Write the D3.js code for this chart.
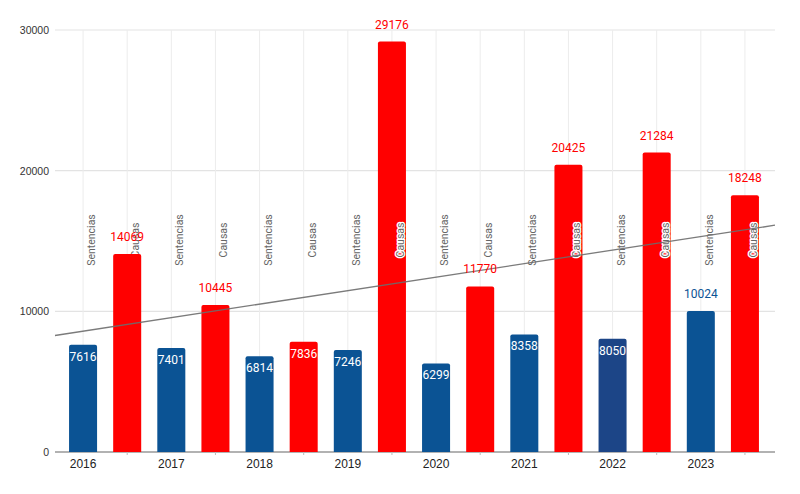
<!DOCTYPE html>
<html><head><meta charset="utf-8">
<script src="https://cdn.jsdelivr.net/npm/d3@7"></script>
<style>html,body{margin:0;padding:0;background:#fff}svg{display:block}</style>
</head><body>
<svg id="c" width="800" height="494"></svg>
<script>
const years = ["2016","2017","2018","2019","2020","2021","2022","2023"];
const series = ["Sentencias","Causas"];
const sentencias = [7616,7401,6814,7246,6299,8358,8050,10024];
const causas = [14069,10445,7836,29176,11770,20425,21284,18248];
const yTicks = [0,10000,20000,30000];

const colors = {Sentencias:"#0b5394", Causas:"#ff0000"};
const altBlue = "#1c4587"; // 2022 Sentencias bar

const rows = [];
years.forEach((y,i)=>{
  rows.push({year:y, s:"Sentencias", v:sentencias[i], key:y+"-S"});
  rows.push({year:y, s:"Causas", v:causas[i], key:y+"-C"});
});

const svg = d3.select("#c");
const x = d3.scaleBand().domain(rows.map(d=>d.key)).range([61,767]).paddingInner(0.365).paddingOuter(0.1825);
const y = d3.scaleLinear().domain([0,30000]).range([452,30]);
const cx = k => x(k)+x.bandwidth()/2;
const L = 55, R = 775;

// horizontal grid
svg.append("g").selectAll("line").data(yTicks).join("line")
  .attr("x1",L).attr("x2",R).attr("y1",d=>y(d)).attr("y2",d=>y(d))
  .attr("stroke",d=>d===0?"#999":"#e3e3e3").attr("stroke-width",d=>d===0?1.3:1.2);
// vertical grid
svg.append("g").selectAll("line").data(rows).join("line")
  .attr("x1",d=>cx(d.key)).attr("x2",d=>cx(d.key)).attr("y1",y(30000)).attr("y2",y(0))
  .attr("stroke","#ececec").attr("stroke-width",1);
// y labels
svg.append("g").selectAll("text").data(yTicks).join("text")
  .attr("x",49).attr("y",d=>y(d)+4).attr("text-anchor","end")
  .attr("font-family","Liberation Sans, Arial, sans-serif").attr("font-size",10.5).attr("fill","#333")
  .text(d=>d);

// rotated series labels
svg.append("g").selectAll("text").data(rows).join("text")
  .attr("transform",d=>`translate(${cx(d.key)+12},240) rotate(-90)`)
  .attr("text-anchor","middle")
  .attr("font-family","Roboto, sans-serif").attr("font-size",10.5).attr("fill","#666")
  .text(d=>d.s);

// bars
const bw = x.bandwidth();
svg.append("g").selectAll("path").data(rows).join("path")
  .attr("d",d=>{
    const x0=x(d.key), y0=y(d.v), h=y(0)-y(d.v), r=2;
    return `M${x0},${y0+h}V${y0+r}Q${x0},${y0} ${x0+r},${y0}H${x0+bw-r}Q${x0+bw},${y0} ${x0+bw},${y0+r}V${y0+h}Z`;
  })
  .attr("fill",d=>d.key==="2022-S"?altBlue:colors[d.s]);

// x ticks at Causas centres
svg.append("g").selectAll("line").data(rows.filter(d=>d.s==="Causas")).join("line")
  .attr("x1",d=>cx(d.key)).attr("x2",d=>cx(d.key)).attr("y1",y(0)).attr("y2",y(0)+3)
  .attr("stroke","#bbb");

// Causas labels overlapping red bars get a white halo
svg.append("g").selectAll("text").data(rows.filter(d=>d.s==="Causas" && y(d.v)<240)).join("text")
  .attr("transform",d=>`translate(${cx(d.key)+12},240) rotate(-90)`)
  .attr("text-anchor","middle")
  .attr("font-family","Roboto, sans-serif").attr("font-size",10.5)
  .attr("fill","#666").attr("stroke","#fff").attr("stroke-width",2.6)
  .attr("stroke-linejoin","round").attr("paint-order","stroke")
  .text(d=>d.s);

// trend line (least squares over the 16 values, by slot index)
const xs = rows.map((d,i)=>i), ys = rows.map(d=>d.v);
const mx = d3.mean(xs), my = d3.mean(ys);
const slope = d3.sum(xs.map((xi,i)=>(xi-mx)*(ys[i]-my)))/d3.sum(xs.map(xi=>(xi-mx)**2));
const icpt = my - slope*mx;
const step = x.step(), c0 = cx(rows[0].key);
const idx = px => (px - c0)/step;
svg.append("line")
  .attr("x1",L).attr("x2",R)
  .attr("y1",y(icpt+slope*idx(L))).attr("y2",y(icpt+slope*idx(R)))
  .attr("stroke","#6d6d6d").attr("stroke-width",1.3).attr("opacity",0.9);

// value labels
svg.append("g").selectAll("text").data(rows).join("text")
  .attr("x",d=>cx(d.key))
  .attr("y",d=>d.v<9000 ? y(d.v)+16 : y(d.v)-13)
  .attr("text-anchor","middle")
  .attr("font-family","Roboto, sans-serif").attr("font-size",12)
  .attr("fill",d=>d.v<9000 ? "#fff" : colors[d.s])
  .text(d=>d.v);

// year labels
svg.append("g").selectAll("text").data(rows.filter(d=>d.s==="Sentencias")).join("text")
  .attr("x",d=>cx(d.key)).attr("y",468).attr("text-anchor","middle")
  .attr("font-family","Liberation Sans, Arial, sans-serif").attr("font-size",12).attr("fill","#222")
  .text(d=>d.year);
</script>
</body></html>
